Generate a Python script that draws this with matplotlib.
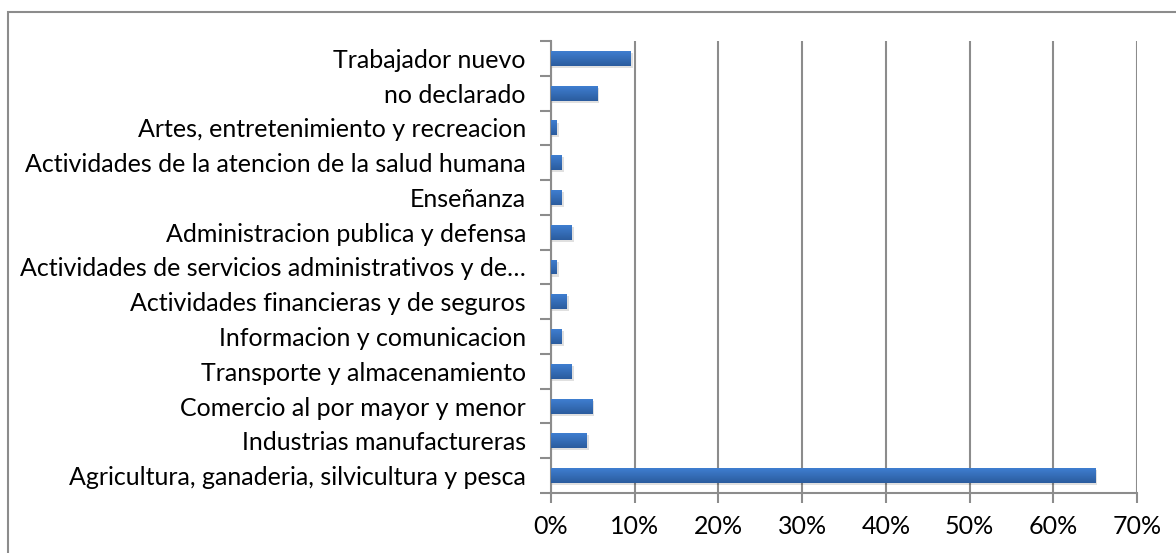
import matplotlib.pyplot as plt
import numpy as np
from matplotlib.colors import LinearSegmentedColormap
from matplotlib.patches import Rectangle
from matplotlib.ticker import PercentFormatter

# sectors listed bottom to top
sectors = [
    "Agricultura, ganaderia, silvicultura y pesca",
    "Industrias manufactureras",
    "Comercio al por mayor y menor",
    "Transporte y almacenamiento",
    "Informacion y comunicacion",
    "Actividades financieras y de seguros",
    "Actividades de servicios administrativos y de…",
    "Administracion publica y defensa",
    "Enseñanza",
    "Actividades de la atencion de la salud humana",
    "Artes, entretenimiento y recreacion",
    "no declarado",
    "Trabajador nuevo",
]
shares = [65.0, 4.3, 4.9, 2.5, 1.3, 1.9, 0.7, 2.5, 1.3, 1.3, 0.7, 5.5, 9.5]
x_ticks = [0, 10, 20, 30, 40, 50, 60, 70]

plt.rcParams['font.family'] = ['Lato', 'DejaVu Sans']

fig = plt.figure(figsize=(11.76, 5.53), dpi=100)
ax = fig.add_axes([0.4685, 0.1085, 0.4983, 0.8174])

# outer chart frame
fig.patches.append(Rectangle((8 / 1176, -0.01), 1.2, 1 - 12 / 553 + 0.01,
                             transform=fig.transFigure, fill=False,
                             edgecolor='#8c8c8c', linewidth=1.5))

bar_h = 0.43
y = np.arange(len(sectors))
grad = LinearSegmentedColormap.from_list('bar', ['#2b5c9e', '#3f7ed0'])

# soft shadow under each bar
ax.barh(y - 0.06, np.array(shares) + 0.25, height=bar_h, left=0,
        color='#000000', alpha=0.12, zorder=2, linewidth=0)
bars = ax.barh(y, shares, height=bar_h, color='#3a72c0', zorder=3, linewidth=0)
g = np.linspace(0, 1, 64).reshape(-1, 1)
for b in bars:
    x0, y0 = b.get_x(), b.get_y()
    im = ax.imshow(g, cmap=grad, aspect='auto', origin='lower', zorder=4,
                   extent=[x0, x0 + b.get_width(), y0, y0 + b.get_height()])
    im.set_clip_path(b)

ax.set_xlim(0, 70)
ax.set_ylim(-0.5, len(sectors) - 0.5)
ax.set_xticks(x_ticks)
ax.xaxis.set_major_formatter(PercentFormatter(decimals=0))
ax.set_yticks(y)
ax.set_yticklabels(sectors)
ax.set_yticks(np.arange(len(sectors) + 1) - 0.5, minor=True)

ax.grid(axis='x', color='#8c8c8c', linewidth=1.5, zorder=0)
ax.set_axisbelow(True)
for side in ['top', 'right']:
    ax.spines[side].set_visible(False)
for side in ['left', 'bottom']:
    ax.spines[side].set_color('#8c8c8c')
    ax.spines[side].set_linewidth(1.5)

ax.tick_params(axis='y', which='major', length=0, pad=18, labelsize=18, labelcolor='#000000')
ax.tick_params(axis='y', which='minor', length=8, width=1.5, color='#8c8c8c')
ax.tick_params(axis='x', length=7, width=1.5, color='#8c8c8c', pad=9,
               labelsize=18, labelcolor='#000000')

fig.savefig('out.png', dpi=100)
